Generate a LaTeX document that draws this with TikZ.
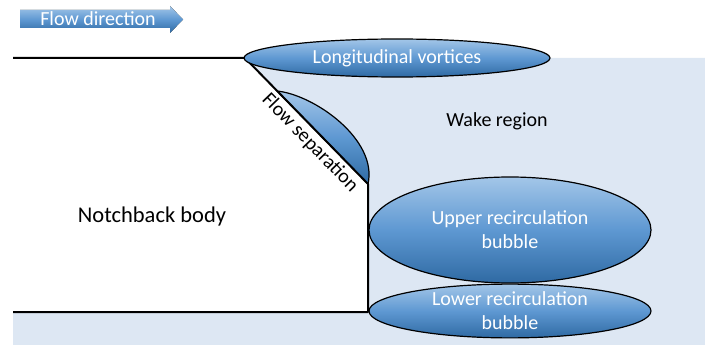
\documentclass[tikz,border=0pt]{standalone}
\usepackage{fontspec}
\setmainfont{Carlito}
\usetikzlibrary{shapes.geometric}
\definecolor{wake}{HTML}{DDE7F3}
\definecolor{btop}{HTML}{A3C6E8}
\definecolor{bmid}{HTML}{5E98D2}
\definecolor{bbot}{HTML}{2F6AA3}
\tikzset{
  bubble/.style={ellipse, draw=black, line width=1.2pt, top color=btop, bottom color=bbot, middle color=bmid, inner sep=0pt, text=white, align=center, font=\fontsize{20}{24}\selectfont},
  bodyline/.style={line width=2pt, black, line join=round},
  lbl/.style={font=\fontsize{20}{24}\selectfont, text=black, inner sep=0pt},
  lens/.style={draw=black, line width=1.2pt, top color=btop, bottom color=bbot, middle color=bmid}
}
\begin{document}
\begin{tikzpicture}[x=1pt,y=-1pt]
\useasboundingbox (0,0) rectangle (705,345);
\coordinate (tl) at (13,58);
\coordinate (c1) at (245,58);
\coordinate (c2) at (368,184);
\coordinate (c3) at (368,312);
\coordinate (bl) at (13,312);
\coordinate (s1) at (277,91);
% wake region
\fill[wake] (c1) -- (705,58) -- (705,345) -- (13,345) -- (bl) -- (c3) -- (c2) -- cycle;
% flow separation lens
\draw[lens] (s1) .. controls (315,95) and (378,140) .. (c2) -- cycle;
% body outline
\draw[bodyline] (tl) -- (c1) -- (c2) -- (c3) -- (bl);
% flow direction arrow
\fill[top color=btop, bottom color=bbot, middle color=bmid] (20,10) -- (170,10) -- (170,6) -- (183,19.5) -- (170,33) -- (170,28) -- (20,28) -- cycle;
\node[lbl, text=white] (fd) at (98,19) {Flow direction};
% ellipses
\node[bubble, minimum width=306, minimum height=38] (lv) at (397,58) {Longitudinal vortices};
\node[bubble, minimum width=282, minimum height=106] (ub) at (510,230) {Upper recirculation\\bubble};
\node[bubble, minimum width=282, minimum height=52] (lb) at (510,311) {Lower recirculation\\bubble};
% labels
\node[lbl] (wr) at (497,121) {Wake region};
\node[lbl, font=\fontsize{22.5}{27}\selectfont] (nb) at (152,217) {Notchback body};
\node[lbl, rotate=-46] (fs) at (310,143) {Flow separation};
\end{tikzpicture}
\end{document}
